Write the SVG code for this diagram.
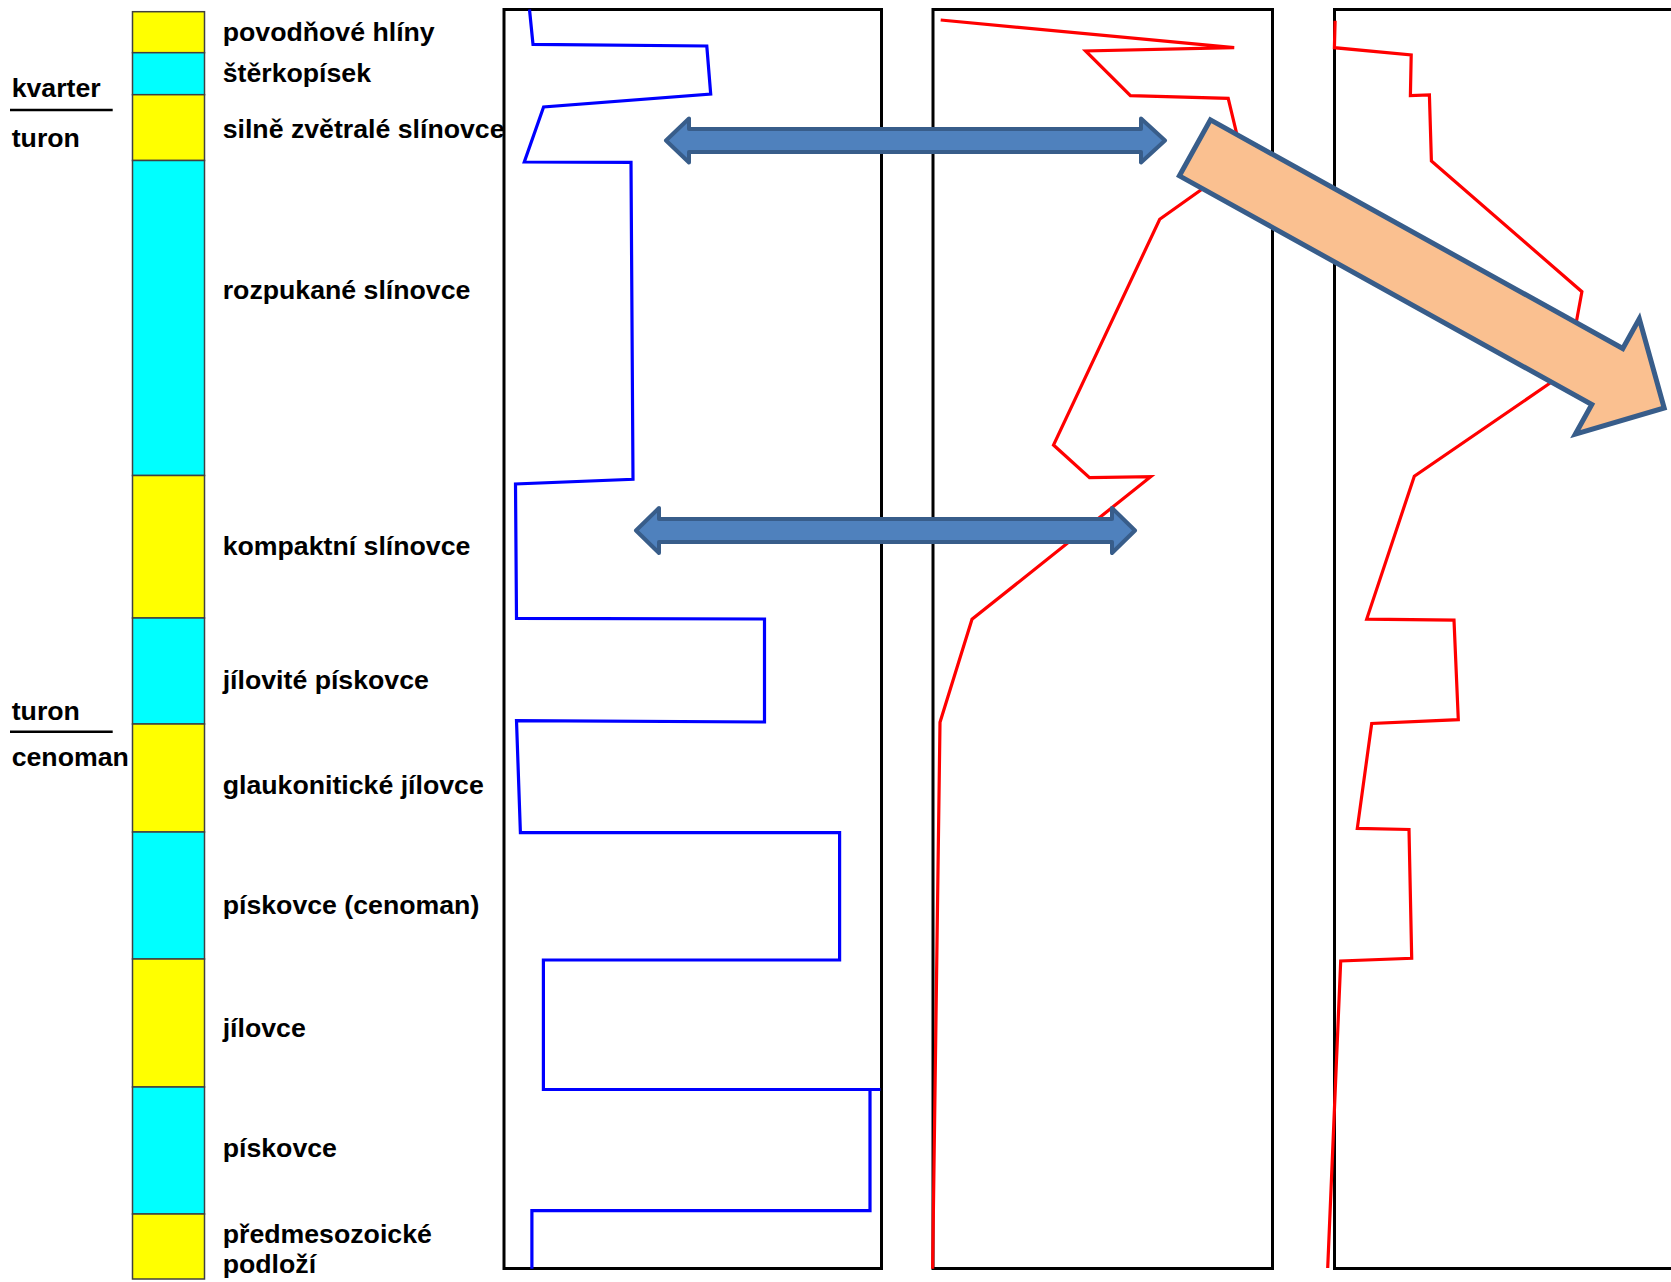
<svg xmlns="http://www.w3.org/2000/svg" width="1671" height="1282" viewBox="0 0 1671 1282">
<style>
.t{font-family:"Liberation Sans",Arial,sans-serif;font-weight:bold;font-size:26.7px;fill:#000}
.y{fill:#FFFF00;stroke:#404040;stroke-width:1.5}
.c{fill:#00FFFF;stroke:#404040;stroke-width:1.5}
.frame{fill:none;stroke:#000;stroke-width:3}
.blue{fill:none;stroke:#0000FF;stroke-width:3.2;stroke-linejoin:miter}
.red{fill:none;stroke:#FF0000;stroke-width:3.2;stroke-linejoin:miter}
.barrow{fill:#4F81BD;stroke:#385D8A;stroke-width:4;stroke-linejoin:round}
.oarrow{fill:#FAC090;stroke:#385D8A;stroke-width:5;stroke-linejoin:miter}
.sep{stroke:#000;stroke-width:2.5}
</style>
<rect width="1671" height="1282" fill="#fff"/>
<g id="column">
<rect id="l1" class="y" x="132.5" y="11.7" width="72" height="41"/>
<rect id="l2" class="c" x="132.5" y="52.7" width="72" height="42"/>
<rect id="l3" class="y" x="132.5" y="94.7" width="72" height="65.8"/>
<rect id="l4" class="c" x="132.5" y="160.5" width="72" height="315"/>
<rect id="l5" class="y" x="132.5" y="475.5" width="72" height="142.5"/>
<rect id="l6" class="c" x="132.5" y="618" width="72" height="106"/>
<rect id="l7" class="y" x="132.5" y="724" width="72" height="108"/>
<rect id="l8" class="c" x="132.5" y="832" width="72" height="127"/>
<rect id="l9" class="y" x="132.5" y="959" width="72" height="128"/>
<rect id="l10" class="c" x="132.5" y="1087" width="72" height="127"/>
<rect id="l11" class="y" x="132.5" y="1214" width="72" height="65"/>
</g>
<g id="labels">
<text class="t" x="222.7" y="40.7">povodňové hlíny</text>
<text class="t" x="222.7" y="81.7">štěrkopísek</text>
<text class="t" x="222.7" y="137.7">silně zvětralé slínovce</text>
<text class="t" x="222.7" y="299">rozpukané slínovce</text>
<text class="t" x="222.7" y="555">kompaktní slínovce</text>
<text class="t" x="222.7" y="688.5">jílovité pískovce</text>
<text class="t" x="222.7" y="794">glaukonitické jílovce</text>
<text class="t" x="222.7" y="914">pískovce (cenoman)</text>
<text class="t" x="222.7" y="1037">jílovce</text>
<text class="t" x="222.7" y="1157">pískovce</text>
<text class="t" x="222.7" y="1243">předmesozoické</text>
<text class="t" x="222.7" y="1272.5">podloží</text>
</g>
<g id="stratigraphy">
<text class="t" x="11.7" y="97">kvarter</text>
<line class="sep" x1="10" y1="110" x2="112.7" y2="110"/>
<text class="t" x="11.7" y="146.7">turon</text>
<text class="t" x="11.7" y="719.5">turon</text>
<line class="sep" x1="10" y1="731.8" x2="112.7" y2="731.8"/>
<text class="t" x="11.7" y="765.5">cenoman</text>
</g>
<g id="frames">
<rect id="frame1" class="frame" x="504" y="9.5" width="377.5" height="1259"/>
<rect id="frame2" class="frame" x="933" y="9.5" width="339.5" height="1259"/>
<rect id="frame3" class="frame" x="1334.5" y="9.5" width="400" height="1259"/>
</g>
<g id="curves">
<polyline id="blue-curve" class="blue" points="529.5,9.5 533,44.3 706.8,46 710.7,94 543.6,107 524.3,162 631,162.3 633,479.3 515.5,484 516.5,618.3 764.5,619 764.5,722 516.5,720.7 520.4,832.7 839.6,832.7 839.6,960 543.4,960 543.4,1089.5 880.4,1089.5 870,1089.5 870,1210.6 531.9,1210.6 531.9,1268.7"/>
<polyline id="red-curve-1" class="red" points="940.7,20 1234.2,47.7 1085.6,51 1130.4,95.7 1228.2,98.3 1243,160 1159.7,219.3 1053.5,445 1089.5,477.7 1150.7,476.7 972,619.3 940,722.3 932.6,1268.7"/>
<polyline id="red-curve-2" class="red" points="1335.1,20.7 1334.4,47.7 1411.2,55 1410.4,95.7 1429.4,95 1431.4,161 1581.9,291.7 1567.2,371.5 1549.8,383.3 1414.3,476.2 1366.7,619.1 1454,620.2 1458.3,719.7 1371.7,723.5 1357.3,828.4 1409,829.5 1411.7,958.3 1340.7,961 1327.7,1268"/>
</g>
<g id="connectors">
<path id="arrow-upper" class="barrow" d="M666,140.5 L689,118.5 L689,129 L1141,129 L1141,118.5 L1165,140.5 L1141,162.5 L1141,152 L689,152 L689,162.5 Z"/>
<path id="arrow-lower" class="barrow" d="M636,530.5 L659,508 L659,519 L1112,519 L1112,508 L1135,530.5 L1112,553 L1112,542 L659,542 L659,553 Z"/>
<path id="arrow-orange" class="oarrow" d="M1210.45,119.9 L1622.8,348.5 L1639.3,318.8 L1664.2,408 L1575.3,434.2 L1591.8,404.5 L1179.4,175.9 Z"/>
</g>
</svg>
